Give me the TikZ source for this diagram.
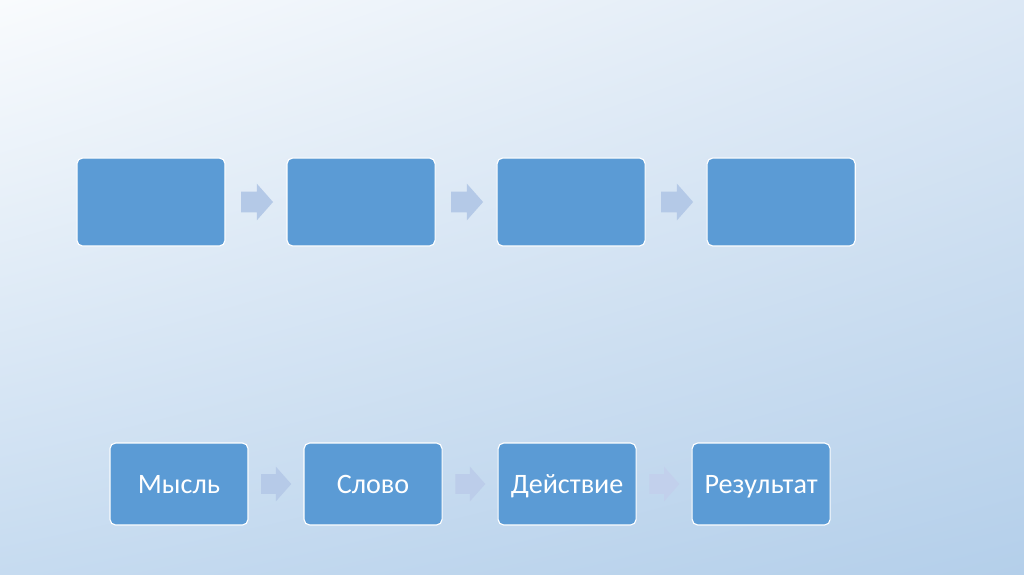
\documentclass[tikz,border=0pt]{standalone}
\usepackage{fontspec}
\setmainfont{Carlito}
\usepackage{tikz}
\usetikzlibrary{positioning,shapes.arrows,shadings}

\definecolor{boxblue}{RGB}{91,155,213}
\definecolor{bgwhite}{RGB}{249,251,253}
\definecolor{bgtopright}{RGB}{220,232,245}
\definecolor{bgbotleft}{RGB}{198,219,240}
\definecolor{bgbotright}{RGB}{180,207,234}
\definecolor{flowtop}{RGB}{180,201,231}
\definecolor{flowa}{RGB}{182,202,232}
\definecolor{flowb}{RGB}{188,205,234}
\definecolor{flowc}{RGB}{194,208,236}

\begin{document}
\begin{tikzpicture}[x=0.025cm, y=-0.025cm,
    stage/.style={rectangle, rounded corners=4pt, draw=white, line width=0.8pt,
        outer sep=0pt, fill=boxblue, text=white, font=\fontsize{20}{24}\selectfont,
        text height=12.9pt, text depth=0pt},
    bigstage/.style={stage, minimum width=3.7cm, minimum height=2.2cm},
    smallstage/.style={stage, minimum width=3.45cm, minimum height=2.05cm},
    flow/.style={single arrow, draw=none, inner xsep=0pt, inner ysep=0.25cm,
        outer sep=0pt, text height=0pt, text depth=0pt, minimum height=0.8cm,
        single arrow head extend=0.2cm, single arrow tip angle=97,
        single arrow head indent=0pt},
    smallflow/.style={flow, inner ysep=0.24cm, minimum height=0.75cm,
        single arrow head extend=0.185cm}
]
    % background
    \shade[upper left=bgwhite, upper right=bgtopright,
        lower left=bgbotleft, lower right=bgbotright] (0,0) rectangle (1024,574);
    \useasboundingbox (0,0) rectangle (1024,574);

    % upper row, empty stages
    \node[bigstage] (t1) at (151,202) {};
    \node[bigstage, right=1.55cm of t1] (t2) {};
    \node[bigstage, right=1.55cm of t2] (t3) {};
    \node[bigstage, right=1.55cm of t3] (t4) {};
    \foreach \a/\b in {t1/t2, t2/t3, t3/t4}
        \node[flow, fill=flowtop, right=0.4cm of \a] (\a\b) {};

    % lower row
    \node[smallstage] (m) at (179,484) {Мысль};
    \node[smallstage, right=1.4cm of m] (s) {Слово};
    \node[smallstage, right=1.4cm of s] (d) {Действие};
    \node[smallstage, right=1.4cm of d] (r) {Результат};
    \node[smallflow, fill=flowa, right=0.33cm of m] (ms) {};
    \node[smallflow, fill=flowb, right=0.33cm of s] (sd) {};
    \node[smallflow, fill=flowc, right=0.33cm of d] (dr) {};
\end{tikzpicture}
\end{document}
